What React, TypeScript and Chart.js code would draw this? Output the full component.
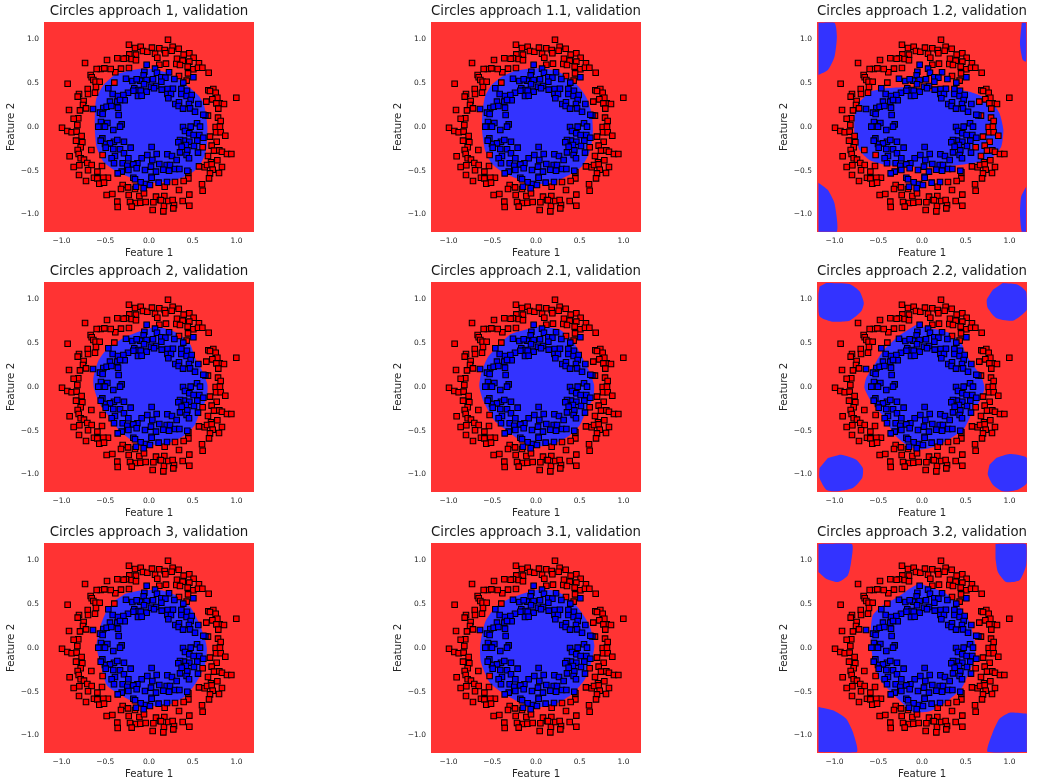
import React, { useEffect, useRef } from "react";
import { Chart, registerables } from "chart.js";

Chart.register(...registerables);

type Pt = [number, number];

const tickValues = [-1, -0.5, 0, 0.5, 1];
const axisLimit = 1.2;

const redClass: Pt[] = [
  [-0.229,0.941],[-0.16,0.903],[-0.095,0.918],[-0.069,0.869],[-0.019,0.861],[-0.225,0.83],[-0.149,0.827],[-0.263,0.785],[-0.362,0.785],[-0.29,0.781],[-0.198,0.777],[-0.149,0.762],[-0.48,0.766],[-0.731,0.731],[-0.229,0.674],[-0.32,0.667],[-0.385,0.625],[-0.438,0.663],[-0.552,0.663],[-0.598,0.663],[-0.51,0.67],[-0.667,0.594],[-0.655,0.568],[-0.636,0.537],[-0.61,0.518],[-0.564,0.518],[-0.396,0.507],[-0.606,0.457],[-0.7,0.434],[-0.617,0.392],[-0.697,0.377],[-0.93,0.495],[-0.8,0.377],[-0.815,0.347],[-0.747,0.297],[-0.754,0.251],[-0.72,0.213],[-0.789,0.19],[-0.914,0.194],[-0.808,0.099],[-0.861,0.095],[-0.819,0.023],
  [0.217,0.998],[0.034,0.907],[0.118,0.899],[0.27,0.918],[0.339,0.895],[0.179,0.88],[0.259,0.872],[0.069,0.838],[0.187,0.842],[0.396,0.827],[0.461,0.842],[0.095,0.792],[0.51,0.792],[0.32,0.781],[0.385,0.758],[0.461,0.747],[0.571,0.728],[0.312,0.72],[0.354,0.709],[0.118,0.712],[0.194,0.724],[0.442,0.69],[0.507,0.659],[0.56,0.678],[0.61,0.678],[0.682,0.621],[0.343,0.583],[0.446,0.613],[0.43,0.53],[0.678,0.419],[0.735,0.434],[0.697,0.411],[0.762,0.392],[0.781,0.335],[0.655,0.29],[0.724,0.316],[0.808,0.27],[0.857,0.263],[0.77,0.27],[0.792,0.21],[0.998,0.335],[0.789,0.107],[0.819,0.069],[0.674,0.13],
  [-0.994,-0.008],[-0.933,-0.046],[-0.884,-0.061],[-0.827,-0.053],[-0.77,-0.103],[-0.834,-0.156],[-0.762,-0.175],[-0.781,-0.232],[-0.815,-0.263],[-0.804,-0.309],[-0.659,-0.263],[-0.907,-0.335],[-0.781,-0.358],[-0.743,-0.373],[-0.705,-0.411],[-0.796,-0.438],[-0.861,-0.457],[-0.655,-0.434],[-0.537,-0.446],[-0.53,-0.32],[-0.59,-0.51],[-0.697,-0.495],[-0.8,-0.549],[-0.469,-0.579],[-0.629,-0.579],[-0.59,-0.587],[-0.522,-0.579],[-0.72,-0.617],[-0.568,-0.648],[-0.514,-0.636],[-0.301,-0.663],[-0.32,-0.709],[-0.24,-0.69],[-0.16,-0.709],[-0.232,-0.777],[-0.484,-0.777],[-0.419,-0.766],[-0.11,-0.789],[-0.057,-0.758],[-0.217,-0.857],[-0.362,-0.853],[-0.358,-0.914],[-0.149,-0.869],[-0.099,-0.865],[-0.038,-0.857],[-0.198,-0.91],
  [0.762,0],[0.811,0.004],[0.766,-0.061],[0.819,-0.061],[0.872,-0.099],[0.697,-0.11],[0.773,-0.168],[0.613,-0.232],[0.716,-0.213],[0.743,-0.27],[0.804,-0.267],[0.834,-0.282],[0.891,-0.309],[0.941,-0.309],[0.674,-0.331],[0.709,-0.404],[0.781,-0.381],[0.571,-0.45],[0.636,-0.461],[0.663,-0.434],[0.716,-0.427],[0.834,-0.457],[0.728,-0.488],[0.697,-0.53],[0.8,-0.526],[0.686,-0.587],[0.606,-0.655],[0.613,-0.728],[0.45,-0.518],[0.45,-0.587],[0.396,-0.617],[0.179,-0.682],[0.297,-0.629],[0.343,-0.72],[0.461,-0.773],[0.385,-0.846],[0.461,-0.899],[0.171,-0.903],[0.286,-0.891],[0.278,-0.93],[0.164,-0.964],[0.08,-0.796],[0.175,-0.789],[0.126,-0.834],[0.05,-0.861],[0.221,-0.846],[0.27,-0.834],[0.042,-0.949],[0.137,-0.838],
];

const blueClass: Pt[] = [
  [-0.027,0.712],[-0.053,0.632],[-0.061,0.59],[-0.263,0.552],[-0.027,0.537],[-0.19,0.526],[-0.103,0.53],[-0.057,0.488],[-0.141,0.545],[-0.465,0.442],[-0.168,0.442],[-0.122,0.423],[-0.095,0.415],[-0.027,0.404],[-0.179,0.415],[-0.24,0.392],[-0.415,0.377],[-0.354,0.354],[-0.293,0.366],[-0.126,0.354],[-0.084,0.358],[-0.446,0.29],[-0.278,0.305],[-0.362,0.29],[-0.331,0.309],[-0.522,0.217],[-0.484,0.232],[-0.43,0.24],[-0.354,0.221],[-0.64,0.206],[-0.56,0.164],[-0.53,0.149],[-0.347,0.137],[-0.549,0.057],[-0.476,0.046],[-0.312,0.03],[-0.522,0.004],
  [0.069,0.667],[0.091,0.621],[0.229,0.625],[0.046,0.545],[0.141,0.568],[0.187,0.564],[0.29,0.549],[0.507,0.568],[0.392,0.507],[0.141,0.518],[0.08,0.469],[0.023,0.461],[0.057,0.442],[0.145,0.427],[0.213,0.434],[0.274,0.438],[0.37,0.434],[0.434,0.415],[0.21,0.377],[0.251,0.377],[0.37,0.377],[0.43,0.354],[0.488,0.366],[0.221,0.328],[0.476,0.309],[0.564,0.263],[0.457,0.263],[0.301,0.263],[0.343,0.282],[0.339,0.24],[0.389,0.21],[0.469,0.213],[0.526,0.175],[0.644,0.133],[0.621,0.141],[0.549,0.042],
  [-0.579,0.004],[-0.503,0.004],[-0.408,-0.034],[-0.331,0.004],[-0.286,-0.168],[-0.533,-0.13],[-0.503,-0.194],[-0.4,-0.168],[-0.362,-0.149],[-0.446,-0.187],[-0.552,-0.156],[-0.495,-0.236],[-0.408,-0.251],[-0.331,-0.255],[-0.21,-0.236],[-0.286,-0.301],[-0.389,-0.331],[-0.427,-0.358],[-0.4,-0.415],[-0.301,-0.415],[-0.236,-0.358],[-0.084,-0.358],[-0.019,-0.32],[-0.133,-0.415],[-0.179,-0.427],[-0.248,-0.442],[-0.236,-0.491],[-0.046,-0.491],[0.023,-0.453],[-0.141,-0.472],[-0.312,-0.51],[-0.358,-0.53],[-0.179,-0.579],[-0.16,-0.598],[-0.095,-0.632],[-0.034,-0.651],[0.03,-0.568],[-0.149,-0.682],[-0.061,-0.701],[0.011,-0.663],
  [0.389,0],[0.476,0.004],[0.583,0.004],[0.411,-0.046],[0.461,-0.072],[0.51,-0.091],[0.575,-0.091],[0.621,-0.122],[0.552,-0.156],[0.4,-0.156],[0.461,-0.168],[0.354,-0.149],[0.335,-0.175],[0.423,-0.206],[0.514,-0.217],[0.373,-0.225],[0.438,-0.267],[0.56,-0.293],[0.354,-0.29],[0.43,-0.32],[0.03,-0.229],[0.21,-0.312],[0.088,-0.309],[0.263,-0.331],[0.316,-0.377],[0.457,-0.358],[0.038,-0.377],[0.118,-0.423],[0.202,-0.434],[0.24,-0.434],[0.297,-0.48],[0.164,-0.488],[0.229,-0.499],[0.08,-0.51],[0.347,-0.48],[0.438,-0.499],[0.03,-0.579],[0.11,-0.636],[0.206,-0.629],
];

const region1: Pt[] = [[-0.1,0.665],[0.05,0.66],[0.2,0.62],[0.33,0.55],[0.45,0.46],[0.56,0.366],[0.62,0.28],[0.65,0.15],[0.667,0],[0.66,-0.225],[0.63,-0.34],[0.58,-0.434],[0.507,-0.51],[0.354,-0.587],[0.2,-0.625],[0.01,-0.636],[-0.18,-0.587],[-0.37,-0.51],[-0.52,-0.396],[-0.6,-0.225],[-0.62,0],[-0.606,0.31],[-0.52,0.48],[-0.39,0.594],[-0.236,0.644]];
const region11: Pt[] = [[-0.07,0.67],[0.1,0.67],[0.255,0.632],[0.41,0.537],[0.52,0.423],[0.59,0.31],[0.636,0.156],[0.65,-0.034],[0.63,-0.225],[0.58,-0.358],[0.52,-0.453],[0.41,-0.53],[0.255,-0.606],[0.065,-0.651],[-0.088,-0.636],[-0.22,-0.587],[-0.39,-0.51],[-0.507,-0.415],[-0.583,-0.263],[-0.617,-0.034],[-0.613,0.156],[-0.583,0.347],[-0.507,0.48],[-0.392,0.575],[-0.24,0.644]];
const region12: Pt[] = [[-0.6,0.404],[-0.41,0.442],[-0.143,0.453],[0.048,0.423],[0.162,0.404],[0.39,0.423],[0.543,0.404],[0.695,0.347],[0.81,0.27],[0.886,0.156],[0.93,-0.034],[0.905,-0.225],[0.81,-0.339],[0.657,-0.396],[0.428,-0.434],[0.162,-0.453],[-0.143,-0.453],[-0.41,-0.434],[-0.6,-0.377],[-0.714,-0.263],[-0.771,-0.072],[-0.771,0.118],[-0.733,0.27]];
const region12TL: Pt[] = [[-1.183,1.192],[-1,1.192],[-0.973,1.03],[-1,0.804],[-1.076,0.651],[-1.183,0.594]];
const region12TR: Pt[] = [[1.14,1.192],[1.12,0.95],[1.15,0.77],[1.19,0.75],[1.19,1.192]];
const region12BL: Pt[] = [[-1.183,-0.636],[-1.076,-0.72],[-1,-0.872],[-0.973,-1.196],[-1.183,-1.196]];
const region12BR: Pt[] = [[1.19,-0.682],[1.133,-0.796],[1.12,-0.987],[1.14,-1.196],[1.19,-1.196]];
const region2: Pt[] = [[0.164,0.674],[0.316,0.62],[0.47,0.49],[0.526,0.335],[0.6,0.2],[0.667,0.03],[0.66,-0.126],[0.583,-0.278],[0.526,-0.43],[0.39,-0.564],[0.2,-0.651],[0.011,-0.659],[-0.18,-0.62],[-0.331,-0.507],[-0.446,-0.354],[-0.56,-0.2],[-0.63,-0.011],[-0.636,0.103],[-0.58,0.297],[-0.484,0.43],[-0.293,0.56],[-0.103,0.636],[0.05,0.682]];
const region21: Pt[] = [[0.14,0.682],[0.274,0.655],[0.41,0.541],[0.503,0.39],[0.598,0.2],[0.663,0.03],[0.655,-0.126],[0.58,-0.259],[0.503,-0.43],[0.37,-0.564],[0.18,-0.659],[-0.011,-0.678],[-0.2,-0.6],[-0.316,-0.507],[-0.469,-0.392],[-0.6,-0.164],[-0.648,0.008],[-0.62,0.18],[-0.545,0.35],[-0.43,0.467],[-0.297,0.6],[-0.126,0.655],[0.027,0.69]];
const region22: Pt[] = [[-0.067,0.712],[0.086,0.674],[0.314,0.617],[0.448,0.503],[0.505,0.37],[0.581,0.255],[0.676,0.122],[0.714,-0.011],[0.657,-0.164],[0.581,-0.278],[0.486,-0.469],[0.39,-0.545],[0.162,-0.678],[-0.029,-0.716],[-0.181,-0.659],[-0.314,-0.545],[-0.429,-0.354],[-0.581,-0.164],[-0.657,-0.011],[-0.638,0.103],[-0.543,0.255],[-0.448,0.408],[-0.276,0.579]];
const region22TL: Pt[] = [[-1.095,1.189],[-0.829,1.177],[-0.714,1.093],[-0.665,0.96],[-0.695,0.865],[-0.829,0.758],[-1.038,0.75],[-1.171,0.808],[-1.183,1.055],[-1.17,1.15]];
const region22TR: Pt[] = [[0.924,1.189],[1.095,1.17],[1.19,1.09],[1.198,0.884],[1.038,0.758],[0.848,0.789],[0.752,0.903],[0.741,0.998],[0.81,1.112]];
const region22BL: Pt[] = [[-1.076,-0.811],[-0.924,-0.773],[-0.752,-0.83],[-0.676,-0.926],[-0.684,-1.04],[-0.79,-1.154],[-0.981,-1.192],[-1.095,-1.173],[-1.171,-1.04],[-1.171,-0.926]];
const region22BR: Pt[] = [[0.848,-0.811],[1,-0.766],[1.198,-0.811],[1.198,-1.097],[1.095,-1.173],[0.924,-1.192],[0.81,-1.116],[0.752,-1],[0.771,-0.888]];
const region3: Pt[] = [[-0.267,0.622],[-0.076,0.66],[0.138,0.66],[0.305,0.603],[0.471,0.47],[0.567,0.298],[0.638,0.107],[0.662,-0.008],[0.638,-0.198],[0.543,-0.389],[0.424,-0.542],[0.257,-0.637],[0.067,-0.664],[-0.124,-0.637],[-0.314,-0.542],[-0.481,-0.427],[-0.552,-0.198],[-0.6,0.03],[-0.552,0.26],[-0.481,0.431],[-0.386,0.546]];
const region31: Pt[] = [[-0.2,0.603],[-0.01,0.66],[0.18,0.66],[0.324,0.603],[0.49,0.45],[0.61,0.26],[0.667,0.03],[0.633,-0.16],[0.562,-0.351],[0.419,-0.523],[0.229,-0.637],[0.038,-0.676],[-0.152,-0.637],[-0.367,-0.523],[-0.533,-0.389],[-0.629,-0.16],[-0.638,0.03],[-0.581,0.298],[-0.462,0.469],[-0.319,0.557]];
const region32: Pt[] = [[-0.029,0.743],[0.086,0.697],[0.276,0.621],[0.448,0.45],[0.543,0.297],[0.61,0.03],[0.6,-0.122],[0.505,-0.35],[0.448,-0.465],[0.276,-0.617],[0.086,-0.724],[-0.105,-0.731],[-0.276,-0.579],[-0.39,-0.465],[-0.486,-0.35],[-0.562,-0.122],[-0.589,0.145],[-0.562,0.373],[-0.448,0.488],[-0.276,0.583],[-0.143,0.678]];
const region32TL: Pt[] = [[-1.183,1.189],[-0.802,1.189],[-0.81,0.983],[-0.848,0.83],[-0.962,0.754],[-1.095,0.792],[-1.183,0.869]];
const region32TR: Pt[] = [[0.84,1.189],[1.19,1.189],[1.19,0.945],[1.114,0.773],[0.962,0.754],[0.867,0.869],[0.84,1.02]];
const region32BL: Pt[] = [[-1.183,-0.674],[-1.019,-0.712],[-0.867,-0.808],[-0.79,-0.96],[-0.745,-1.189],[-1.183,-1.189]];
const region32BR: Pt[] = [[1.198,-0.75],[1,-0.739],[0.886,-0.808],[0.81,-0.96],[0.752,-1.189],[1.198,-1.189]];

const panels: { name: string; regions: Pt[][] }[] = [
  { name: "1", regions: [region1] },
  { name: "1.1", regions: [region11] },
  { name: "1.2", regions: [region12, region12TL, region12TR, region12BL, region12BR] },
  { name: "2", regions: [region2] },
  { name: "2.1", regions: [region21] },
  { name: "2.2", regions: [region22, region22TL, region22TR, region22BL, region22BR] },
  { name: "3", regions: [region3] },
  { name: "3.1", regions: [region31] },
  { name: "3.2", regions: [region32, region32TL, region32TR, region32BL, region32BR] },
];

const FONT = "'DejaVu Sans', sans-serif";
const RED_BG = "#ff3333";
const BLUE_BG = "#3333ff";
const colLefts = [0, 387, 773];
const rowTops = [0, 260, 521];

const plotBackground = {
  id: "plotBackground",
  beforeDraw(chart: any) {
    const { ctx, chartArea: a } = chart;
    ctx.save();
    ctx.fillStyle = RED_BG;
    ctx.fillRect(a.left, a.top, a.width, a.height);
    ctx.restore();
  },
};

const toXY = (pts: Pt[]) => pts.map(([x, y]) => ({ x, y }));
const fmt = (v: number) => (v < 0 ? "\u2212" : "") + Math.abs(v).toFixed(1);

function Panel({ name, regions, left, top }: { name: string; regions: Pt[][]; left: number; top: number }) {
  const ref = useRef<HTMLCanvasElement>(null);
  useEffect(() => {
    const axis = (label: string, side: "x" | "y"): any => ({
      type: "linear",
      min: -axisLimit,
      max: axisLimit,
      afterBuildTicks: (s: any) => { s.ticks = tickValues.map((value) => ({ value })); },
      afterFit: (s: any) => { if (side === "x") s.height = 29; else s.width = 44; },
      grid: { display: false, drawTicks: false },
      border: { display: false },
      ticks: {
        callback: (v: any) => fmt(Number(v)),
        font: { family: FONT, size: 7.5 },
        color: "#262626",
        padding: side === "x" ? 5 : 5,
        autoSkip: false,
        maxRotation: 0,
        minRotation: 0,
      },
      title: {
        display: true,
        text: label,
        font: { family: FONT, size: 10.2 },
        color: "#262626",
        padding: { top: 5, bottom: 2 },
      },
    });
    const chart = new Chart(ref.current!, {
      type: "scatter",
      data: {
        datasets: [
          ...regions.map((r) => ({
            data: toXY(r),
            showLine: true,
            fill: "shape",
            backgroundColor: BLUE_BG,
            borderColor: BLUE_BG,
            borderWidth: 0,
            pointRadius: 0,
            tension: 0.2,
            order: 3,
          })),
          {
            data: toXY(redClass),
            pointStyle: "rect",
            pointRadius: 3.9,
            pointBackgroundColor: "#ff0000",
            pointBorderColor: "#000000",
            pointBorderWidth: 1.05,
            order: 2,
          },
          {
            data: toXY(blueClass),
            pointStyle: "rect",
            pointRadius: 3.9,
            pointBackgroundColor: "#0000ff",
            pointBorderColor: "#000000",
            pointBorderWidth: 1.05,
            order: 1,
          },
        ] as any,
      },
      options: {
        animation: false,
        responsive: false,
        events: [],
        layout: { padding: { left: 0, right: 6, top: 0, bottom: 0 } },
        plugins: {
          legend: { display: false },
          tooltip: { enabled: false },
          title: {
            display: true,
            fullSize: false,
            text: `Circles approach ${name}, validation`,
            font: { family: FONT, size: 13.4, weight: "normal" },
            color: "#1a1a1a",
            padding: { top: 3, bottom: 2.92 },
          },
        },
        scales: { x: axis("Feature 1", "x"), y: axis("Feature 2", "y") },
      } as any,
      plugins: [plotBackground],
    });
    return () => chart.destroy();
  }, [name, regions]);
  return (
    <canvas
      ref={ref}
      width={260}
      height={261}
      style={{ position: "absolute", left, top, width: 260, height: 261, filter: "blur(0.3px)" }}
    />
  );
}

export default function App() {
  return (
    <div style={{ position: "absolute", left: 0, top: 0, width: 1043, height: 782, overflow: "hidden", background: "#fff" }}>
      {panels.map((p, i) => (
        <Panel key={p.name} name={p.name} regions={p.regions} left={colLefts[i % 3]} top={rowTops[Math.floor(i / 3)]} />
      ))}
    </div>
  );
}
